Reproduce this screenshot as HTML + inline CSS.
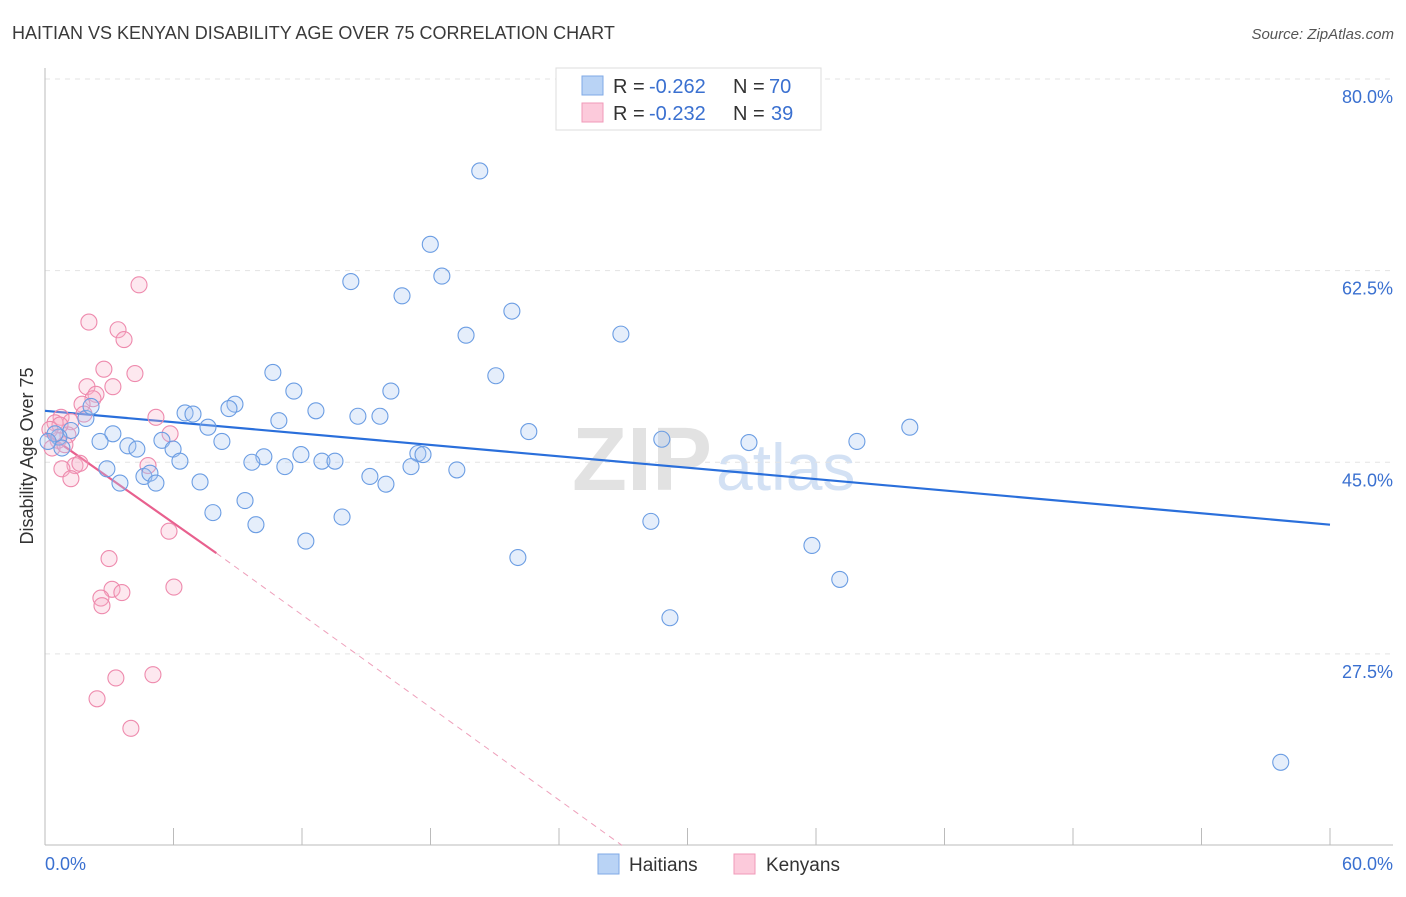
<!DOCTYPE html>
<html><head><meta charset="utf-8"><style>
body{margin:0;background:#fff;font-family:"Liberation Sans",sans-serif;}
svg text{font-family:"Liberation Sans",sans-serif;}
</style></head><body>
<svg id="chart" width="1406" height="892" xmlns="http://www.w3.org/2000/svg">
<text x="12" y="39" font-size="18" fill="#3a3a3a">HAITIAN VS KENYAN DISABILITY AGE OVER 75 CORRELATION CHART</text>
<text x="1394" y="39" font-size="15" fill="#555" text-anchor="end" font-style="italic">Source: ZipAtlas.com</text>
<text x="712" y="490" font-size="90" fill="#e2e2e2" text-anchor="end" font-family="Liberation Serif" font-weight="bold">ZIP</text>
<text x="716" y="490" font-size="66" fill="#d3e1f4">atlas</text>
<g id="grid"></g><g id="axes"></g><g id="lines"></g><g id="pts"></g>
<text transform="translate(33,456) rotate(-90)" font-size="18" fill="#333" text-anchor="middle">Disability Age Over 75</text>
<g>
<rect x="556" y="68" width="265" height="62" fill="#fff" stroke="#ddd"/>
<rect x="582" y="76" width="21" height="19" fill="#b9d3f5" stroke="#7fa9e6"/>
<rect x="582" y="103" width="21" height="19" fill="#fccadb" stroke="#f09ab8"/>
<text x="613" y="93" font-size="20" fill="#333">R =</text>
<text x="649" y="93" font-size="20" fill="#3a70d0">-0.262</text>
<text x="733" y="93" font-size="20" fill="#333">N =</text>
<text x="769" y="93" font-size="20" fill="#3a70d0">70</text>
<text x="613" y="120" font-size="20" fill="#333">R =</text>
<text x="649" y="120" font-size="20" fill="#3a70d0">-0.232</text>
<text x="733" y="120" font-size="20" fill="#333">N =</text>
<text x="771" y="120" font-size="20" fill="#3a70d0">39</text>
</g>
<g>
<rect x="598" y="854" width="21" height="20" fill="#b9d3f5" stroke="#7fa9e6"/>
<text x="629" y="871" font-size="19" fill="#333">Haitians</text>
<rect x="734" y="854" width="21" height="20" fill="#fccadb" stroke="#f09ab8"/>
<text x="766" y="871" font-size="19" fill="#333">Kenyans</text>
</g>
</svg>
<script>
const yTicks=[80,62.5,45,27.5];
const yTickLabels=["80.0%","62.5%","45.0%","27.5%"];
const xTickLabels=["0.0%","60.0%"];
const haitianX=[20.3,17.99,18.53,14.28,16.67,21.8,19.66,26.89,10.64,21.05,11.62,16.15,8.87,6.54,6.91,8.59,12.65,14.61,15.64,10.92,7.61,22.59,40.38,1.91,2.15,3.17,2.57,1.21,0.65,0.79,8.26,3.87,4.29,5.46,5.98,6.3,10.22,11.95,9.66,11.2,12.93,13.54,17.41,17.65,17.09,28.8,32.87,37.91,2.89,3.5,4.62,4.9,5.18,7.24,15.17,15.92,19.23,9.34,7.84,9.85,13.87,12.18,28.29,22.08,35.81,37.11,29.18,57.7,0.47,0.14];
const haitianY=[71.6,64.9,62.0,61.5,60.2,58.8,56.6,56.7,53.2,52.9,51.5,51.5,50.3,49.5,49.4,49.9,49.7,49.2,49.2,48.8,48.2,47.8,48.2,49.0,50.1,47.6,46.9,47.9,47.3,46.3,46.9,46.5,46.2,47.0,46.2,45.1,45.5,45.7,45.0,44.6,45.1,45.1,45.8,45.7,44.6,47.1,46.8,46.9,44.4,43.1,43.7,44.0,43.1,43.2,43.7,43.0,44.3,41.5,40.4,39.3,40.0,37.8,39.6,36.3,37.4,34.3,30.8,17.6,47.6,46.9];
const kenyanX=[4.39,2.05,3.41,3.69,2.75,4.2,1.96,3.17,2.38,2.24,1.73,1.82,0.75,1.21,0.47,5.18,5.84,1.07,0.61,0.33,1.4,0.79,1.63,4.81,1.21,5.79,2.99,3.13,3.59,2.61,2.66,6.02,3.31,5.04,2.43,4.01,0.7,0.23,0.93];
const kenyanY=[61.2,57.8,57.1,56.2,53.5,53.1,51.9,51.9,51.2,50.8,50.3,49.4,49.1,48.7,48.6,49.1,47.6,47.5,47.0,46.3,44.7,44.4,44.9,44.7,43.5,38.7,36.2,33.4,33.1,32.6,31.9,33.6,25.3,25.6,23.4,20.7,48.4,48.0,46.6];
const haitianTrend=[[0,49.7],[60,39.3]];
const kenyanTrend=[[0,47.7],[8.0,36.7]];
const kenyanTrendExt=[[8.0,36.7],[26.95,10.0]];
const NS="http://www.w3.org/2000/svg";
const X0=45,X1=1330,Y80=79,PPY=10.95;
const xs=v=>X0+v*(X1-X0)/60;
const ys=v=>Y80+(80-v)*PPY;
function mk(tag,attrs,parent){const e=document.createElementNS(NS,tag);for(const k in attrs)e.setAttribute(k,attrs[k]);document.getElementById(parent).appendChild(e);return e;}
yTicks.forEach((t,i)=>{
 const g=mk('line',{x1:X0,x2:1393,y1:ys(t),y2:ys(t),stroke:'#e3e3e3','stroke-dasharray':'5,5'},'grid');
 
 
 const l=mk('text',{x:1393,y:ys(t)+24,'font-size':18,fill:'#3a70d0','text-anchor':'end'},'grid');
 l.textContent=yTickLabels[i];
 
 
});
const ax=mk('line',{x1:X0,x2:1393,y1:845,y2:845,stroke:'#bbb'},'axes');


const ay=mk('line',{x1:X0,x2:X0,y1:68,y2:845,stroke:'#bbb'},'axes');


for(let i=1;i<=10;i++){const t=mk('line',{x1:xs(i*6),x2:xs(i*6),y1:828,y2:845,stroke:'#bbb'},'axes');
 
 }
[[0,'start',45],[60,'end',1393]].forEach((d,i)=>{const t=mk('text',{x:d[2],y:870,'font-size':18,fill:'#3a70d0','text-anchor':d[1]},'axes');t.textContent=xTickLabels[i];
 
 });
function drawPts(X,Y,fill,stroke,name){X.forEach((x,i)=>{const c=mk('circle',{cx:xs(x),cy:ys(Y[i]),r:8,fill:fill,'fill-opacity':0.3,stroke:stroke,'stroke-width':1.1},'pts');
 
 });}
drawPts(kenyanX,kenyanY,'#f9b4cb','#ee8aad','kenyan-point');
drawPts(haitianX,haitianY,'#a9c8f2','#6b9de3','haitian-point');
const l1=mk('line',{x1:xs(haitianTrend[0][0]),y1:ys(haitianTrend[0][1]),x2:xs(haitianTrend[1][0]),y2:ys(haitianTrend[1][1]),stroke:'#2a6fdb','stroke-width':2.2},'lines');


const l2=mk('line',{x1:xs(kenyanTrend[0][0]),y1:ys(kenyanTrend[0][1]),x2:xs(kenyanTrend[1][0]),y2:ys(kenyanTrend[1][1]),stroke:'#e8608e','stroke-width':2.2},'lines');


const l3=mk('line',{x1:xs(kenyanTrendExt[0][0]),y1:ys(kenyanTrendExt[0][1]),x2:xs(kenyanTrendExt[1][0]),y2:ys(kenyanTrendExt[1][1]),stroke:'#eea0bb','stroke-width':1,'stroke-dasharray':'6,5'},'lines');


</script>
</body></html>
